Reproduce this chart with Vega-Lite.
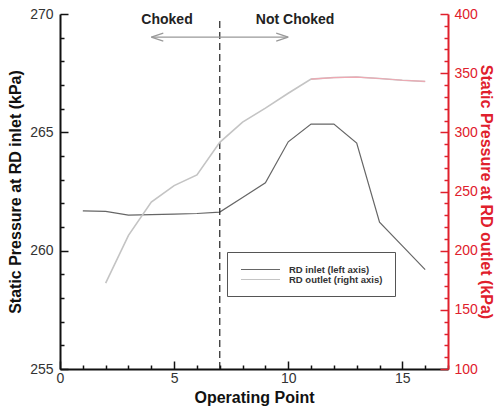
{
  "$schema": "https://vega.github.io/schema/vega-lite/v6.json",
  "width": 388,
  "height": 355,
  "autosize": {"type": "none"},
  "padding": {"left": 60, "top": 14, "right": 49, "bottom": 41},
  "config": {
    "view": {"stroke": null},
    "font": "Liberation Sans",
    "axis": {"grid": false, "labelOverlap": false, "labelBound": false}
  },
  "datasets": {
    "inlet": [
      {"point": 1, "p": 261.68, "series": "RD inlet (left axis)"},
      {"point": 2, "p": 261.66, "series": "RD inlet (left axis)"},
      {"point": 3, "p": 261.5, "series": "RD inlet (left axis)"},
      {"point": 4, "p": 261.52, "series": "RD inlet (left axis)"},
      {"point": 5, "p": 261.54, "series": "RD inlet (left axis)"},
      {"point": 6, "p": 261.57, "series": "RD inlet (left axis)"},
      {"point": 7, "p": 261.63, "series": "RD inlet (left axis)"},
      {"point": 8, "p": 262.25, "series": "RD inlet (left axis)"},
      {"point": 9, "p": 262.87, "series": "RD inlet (left axis)"},
      {"point": 10, "p": 264.6, "series": "RD inlet (left axis)"},
      {"point": 11, "p": 265.35, "series": "RD inlet (left axis)"},
      {"point": 12, "p": 265.35, "series": "RD inlet (left axis)"},
      {"point": 13, "p": 264.55, "series": "RD inlet (left axis)"},
      {"point": 14, "p": 261.2, "series": "RD inlet (left axis)"},
      {"point": 15, "p": 260.2, "series": "RD inlet (left axis)"},
      {"point": 16, "p": 259.2, "series": "RD inlet (left axis)"}
    ],
    "outlet": [
      {"point": 2, "p": 172.6, "series": "RD outlet (right axis)"},
      {"point": 3, "p": 213, "series": "RD outlet (right axis)"},
      {"point": 4, "p": 241, "series": "RD outlet (right axis)"},
      {"point": 5, "p": 255, "series": "RD outlet (right axis)"},
      {"point": 6, "p": 264, "series": "RD outlet (right axis)"},
      {"point": 7, "p": 291.5, "series": "RD outlet (right axis)"},
      {"point": 8, "p": 308.7, "series": "RD outlet (right axis)"},
      {"point": 9, "p": 320.5, "series": "RD outlet (right axis)"},
      {"point": 10, "p": 333, "series": "RD outlet (right axis)"},
      {"point": 11, "p": 345, "series": "RD outlet (right axis)"},
      {"point": 12, "p": 346.3, "series": "RD outlet (right axis)"},
      {"point": 13, "p": 346.7, "series": "RD outlet (right axis)"},
      {"point": 14, "p": 345.5, "series": "RD outlet (right axis)"},
      {"point": 15, "p": 344, "series": "RD outlet (right axis)"},
      {"point": 16, "p": 343, "series": "RD outlet (right axis)"}
    ],
    "notes": [
      {"point": 4.69, "p": 269.75, "label": "Choked"},
      {"point": 10.3, "p": 269.75, "label": "Not Choked"}
    ],
    "divider": [
      {"point": 7, "p": 255, "p2": 269.7}
    ],
    "arrow": [
      {"point": 4, "point2": 10, "p": 269.02}
    ],
    "heads": [
      {"point": 4, "p": 269.02, "side": "left"},
      {"point": 10, "p": 269.02, "side": "right"}
    ]
  },
  "encoding": {
    "x": {
      "field": "point",
      "type": "quantitative",
      "scale": {"domain": [0, 17], "nice": false, "zero": false},
      "axis": {
        "title": "Operating Point",
        "titleFontSize": 16,
        "titleFontWeight": "bold",
        "titleColor": "#111",
        "titlePadding": 0,
        "values": [0,1,2,3,4,5,6,7,8,9,10,11,12,13,14,15,16,17],
        "labelExpr": "datum.value % 5 === 0 ? datum.label : ''",
        "labelOverlap": false,
        "labelFontSize": 14,
        "labelColor": "#333",
        "labelPadding": 10,
        "labelFlush": false,
        "domainColor": "#111",
        "domainWidth": 2,
        "tickColor": "#111",
        "tickWidth": 1.5,
        "tickSize": {"condition": {"test": "datum.value % 5 === 0", "value": -8}, "value": -4}
      }
    }
  },
  "layer": [
    {
      "encoding": {
        "y": {
          "field": "p",
          "type": "quantitative",
          "scale": {"domain": [255, 270], "nice": false, "zero": false},
          "axis": {
            "title": "Static Pressure at RD inlet (kPa)",
            "titleFontSize": 16,
            "titleFontWeight": "bold",
            "titleColor": "#111",
            "titlePadding": 6,
            "values": [255,256,257,258,259,260,261,262,263,264,265,266,267,268,269,270],
            "labelExpr": "datum.value % 5 === 0 ? datum.label : ''",
            "labelOverlap": false,
            "labelFontSize": 14,
            "labelColor": "#333",
            "labelPadding": 15,
            "labelFlush": false,
            "domainColor": "#111",
            "domainWidth": 2,
            "tickColor": "#111",
            "tickWidth": 1.5,
            "tickSize": {"condition": {"test": "datum.value % 5 === 0", "value": -8}, "value": -4}
          }
        }
      },
      "layer": [
        {
          "data": {"name": "inlet"},
          "mark": {"type": "line", "strokeWidth": 1.2},
          "encoding": {
            "color": {
              "field": "series",
              "type": "nominal",
              "scale": {
                "domain": ["RD inlet (left axis)", "RD outlet (right axis)"],
                "range": ["#666666", "#c4c4c4"]
              },
              "legend": {
                "title": null,
                "orient": "none",
                "legendX": 167,
                "legendY": 238,
                "padding": 12,
                "strokeColor": "#555",
                "fillColor": "white",
                "symbolType": "M-4,0H4",
                "symbolSize": 95,
                "symbolOffset": 16,
                "symbolStrokeWidth": 1,
                "labelFontSize": 9.5,
                "labelFontWeight": "bold",
                "labelColor": "#333",
                "labelOffset": 23,
                "rowPadding": 0
              }
            }
          }
        },
        {
          "data": {"name": "divider"},
          "mark": {"type": "rule", "color": "#222", "strokeWidth": 1.2, "strokeDash": [7, 4]},
          "encoding": {
            "y2": {"field": "p2"}
          }
        },
        {
          "data": {"name": "arrow"},
          "mark": {"type": "rule", "color": "#999", "strokeWidth": 1.2},
          "encoding": {
            "x2": {"field": "point2"}
          }
        },
        {
          "data": {"name": "heads"},
          "mark": {"type": "point", "filled": false, "color": "#999", "strokeWidth": 1.2, "size": 64, "opacity": 1},
          "encoding": {
            "shape": {
              "field": "side",
              "type": "nominal",
              "scale": {"domain": ["left", "right"], "range": ["M0,0L3,-1M0,0L3,1", "M0,0L-3,-1M0,0L-3,1"]},
              "legend": null
            }
          }
        },
        {
          "data": {"name": "notes"},
          "mark": {"type": "text", "fontSize": 14, "fontWeight": "bold", "color": "#222", "baseline": "middle", "align": "center"},
          "encoding": {
            "text": {"field": "label"}
          }
        }
      ]
    },
    {
      "data": {"name": "outlet"},
      "encoding": {
        "y": {
          "field": "p",
          "type": "quantitative",
          "scale": {"domain": [100, 400], "nice": false, "zero": false},
          "axis": {
            "orient": "right",
            "title": "Static Pressure at RD outlet (kPa)",
            "titleFontSize": 16,
            "titleFontWeight": "bold",
            "titleColor": "#e0202c",
            "titlePadding": 0,
            "values": [100,110,120,130,140,150,160,170,180,190,200,210,220,230,240,250,260,270,280,290,300,310,320,330,340,350,360,370,380,390,400],
            "labelExpr": "datum.value % 50 === 0 ? datum.label : ''",
            "labelOverlap": false,
            "labelFontSize": 14,
            "labelColor": "#e0202c",
            "labelPadding": 14,
            "labelFlush": false,
            "domainColor": "#e0202c",
            "domainWidth": 2,
            "tickColor": "#e0202c",
            "tickWidth": 1.5,
            "tickSize": {"condition": {"test": "datum.value % 50 === 0", "value": -8}, "value": -4}
          }
        }
      },
      "layer": [
        {
          "mark": {"type": "line", "strokeWidth": 1.6},
          "encoding": {
            "color": {"field": "series", "type": "nominal"}
          }
        },
        {
          "transform": [{"filter": "datum.point >= 11"}],
          "mark": {"type": "line", "strokeWidth": 1.2, "color": "#efa8b2"}
        }
      ]
    }
  ],
  "resolve": {"scale": {"y": "independent"}}
}
